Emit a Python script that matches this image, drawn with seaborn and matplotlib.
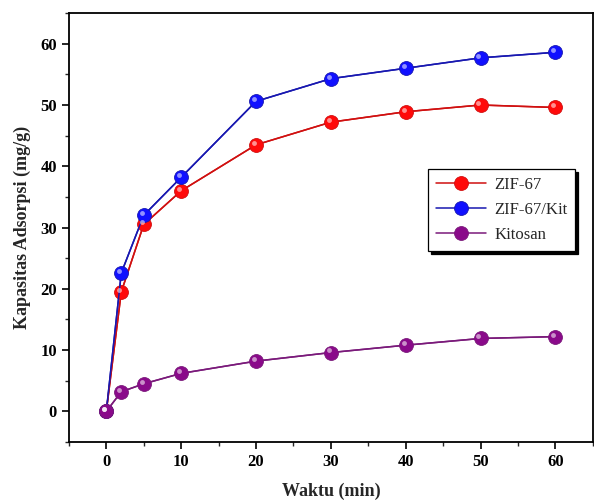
import matplotlib
matplotlib.use("Agg")
import matplotlib.pyplot as plt
import matplotlib.transforms as mtransforms
import seaborn as sns
import pandas as pd
import numpy as np

waktu = [0, 2, 5, 10, 20, 30, 40, 50, 60]
zif67 = [0, 19.5, 30.5, 36.0, 43.5, 47.2, 48.9, 50.0, 49.6]
zif67_kit = [0, 22.6, 32.0, 38.2, 50.6, 54.3, 56.0, 57.7, 58.6]
kitosan = [0, 3.2, 4.5, 6.2, 8.2, 9.6, 10.8, 11.9, 12.2]
labels = ["ZIF-67", "ZIF-67/Kit", "Kitosan"]

df = pd.DataFrame({
    "Waktu": waktu * 3,
    "Kapasitas": zif67 + zif67_kit + kitosan,
    "Sampel": [labels[0]] * len(waktu) + [labels[1]] * len(waktu) + [labels[2]] * len(waktu),
})

sns.set_theme(style="ticks")
plt.rcParams["font.family"] = ["Liberation Serif", "DejaVu Serif"]

fig = plt.figure(figsize=(5.94, 5.04), dpi=100)
ax = fig.add_axes([0.116, 0.123, 0.882, 0.851])

line_cols = {"ZIF-67": "#d01010", "ZIF-67/Kit": "#1818b0", "Kitosan": "#7a1a7a"}
face_cols = {"ZIF-67": "#ff0a0a", "ZIF-67/Kit": "#1010ff", "Kitosan": "#8a0a8a"}

sns.lineplot(data=df, x="Waktu", y="Kapasitas", hue="Sampel", palette=line_cols,
             ax=ax, legend=False, linewidth=1.1, zorder=2)
handles = []
for lab in labels:
    sub = df[df["Sampel"] == lab]
    h, = ax.plot(sub["Waktu"], sub["Kapasitas"], linestyle="-", color=line_cols[lab],
                 linewidth=1.1, marker="o", markersize=10, markerfacecolor=face_cols[lab],
                 markeredgecolor=line_cols[lab], markeredgewidth=0.6, label=lab, zorder=3)
    handles.append(h)
    tr = mtransforms.offset_copy(ax.transData, fig=fig, x=-1.5, y=1.5, units="points")
    ax.plot(sub["Waktu"], sub["Kapasitas"], linestyle="none", marker="o", markersize=3.5,
            markerfacecolor="white", markeredgecolor="none", alpha=0.55, transform=tr, zorder=4)

ax.set_xlim(-5, 65)
ax.set_ylim(-5, 65)
ax.set_xticks(np.arange(0, 61, 10))
ax.set_xticks(np.arange(-5, 66, 5), minor=True)
ax.set_yticks(np.arange(0, 61, 10))
ax.set_yticks(np.arange(-5, 66, 5), minor=True)
ax.tick_params(which="major", direction="out", length=5, width=1.2, labelsize=12, colors="black")
ax.tick_params(which="minor", direction="out", length=3, width=1.0)
for t in ax.get_xticklabels() + ax.get_yticklabels():
    t.set_fontweight("bold")
for s in ax.spines.values():
    s.set_visible(True)
    s.set_linewidth(1.3)
    s.set_color("black")

ax.set_xlabel("Waktu (min)", fontsize=13, fontweight="bold", labelpad=9)
ax.set_ylabel("Kapasitas Adsorpsi (mg/g)", fontsize=13, fontweight="bold", labelpad=7)

leg = ax.legend(handles=handles, labels=labels, loc="upper left",
                bbox_to_anchor=(0.67, 0.655), frameon=True, fancybox=False,
                edgecolor="black", fontsize=12, handlelength=3.0,
                borderpad=0.45, labelspacing=0.55, handletextpad=0.5,
                shadow={"color": "black", "alpha": 1.0})
leg.get_frame().set_linewidth(0.9)

fig.savefig("out.png", dpi=100)
